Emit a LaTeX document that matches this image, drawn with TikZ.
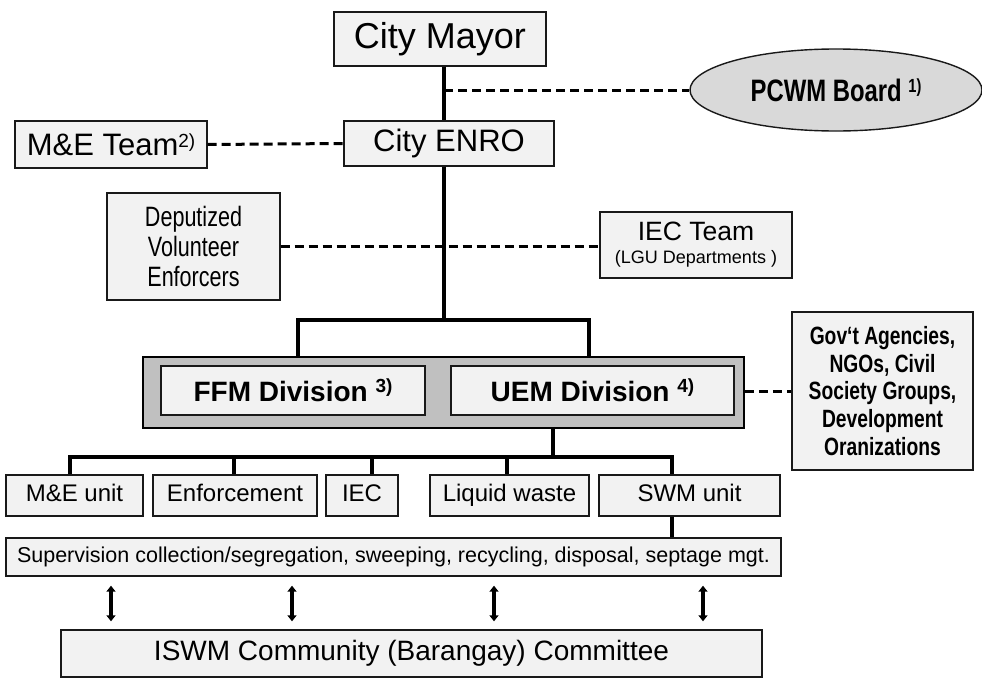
\documentclass[tikz,border=0pt]{standalone}
\usepackage{fontspec}
\setmainfont{Liberation Sans}
\newfontfamily\narrowfont[FakeStretch=0.77]{Liberation Sans}
\usetikzlibrary{shapes.geometric,arrows.meta}
\definecolor{boxgray}{HTML}{F2F2F2}
\definecolor{ellgray}{HTML}{D9D9D9}
\definecolor{biggray}{HTML}{C0C0C0}
\newcommand\fsz[2]{\fontsize{#1}{#2}\selectfont}
\newcommand\sups[3]{\raisebox{#1pt}{\fontsize{#2}{#2}\selectfont #3}}
\begin{document}
\begin{tikzpicture}[x=1pt,y=-1pt,
  box/.style={draw=black!90, line width=1.4pt, fill=boxgray, inner sep=0pt, align=center, text=black},
  unit/.style={box, minimum height=41pt, text height=17pt, text depth=5pt, font=\fsz{24}{26}},
  conn/.style={line width=3.2pt},
  dsh/.style={line width=3pt, dash pattern=on 9pt off 5pt},
  dbl/.style={line width=3.8pt, {Triangle[length=6pt,width=9pt]}-{Triangle[length=6pt,width=9pt]}}]
\useasboundingbox (0,0) rectangle (982,677);
\fill[white] (0,0) rectangle (982,677);

% spine coordinates
\coordinate (sp) at (444,0);
\coordinate (fork) at (444,320);
\coordinate (fl) at (298,320);
\coordinate (fr) at (589,320);
\coordinate (ub) at (553,457);
\coordinate (d1) at (70,457);
\coordinate (d2) at (234,457);
\coordinate (d3) at (372,457);
\coordinate (d4) at (507,457);
\coordinate (d5) at (672,457);
\coordinate (a1) at (111,0);
\coordinate (a2) at (292,0);
\coordinate (a3) at (494,0);
\coordinate (a4) at (703,0);

% top
\node[box, minimum width=212pt, minimum height=54pt, font=\fsz{36}{40}] (mayor) at (440,39) {City Mayor};
\node[ellipse, draw=black!90, line width=1.4pt, fill=ellgray, inner sep=0pt, minimum width=292pt, minimum height=82pt, font=\narrowfont\bfseries\fsz{31}{34}] (pcwm) at (836,90) {PCWM Board \sups{9}{19}{1)}};
\node[box, minimum width=210pt, minimum height=45pt, font=\fsz{31}{34}] (enro) at (449,143.5) {City ENRO};
\node[box, minimum width=192pt, minimum height=47pt, font=\fsz{31}{34}] (mete) at (111,144.5) {M\&E Team\sups{8}{19}{2)}};
\node[box, minimum width=173pt, minimum height=107pt, font=\narrowfont\fsz{28}{30}] (dep) at (193.5,246.5) {Deputized\\Volunteer\\Enforcers};
\node[box, minimum width=192pt, minimum height=66pt, font=\fsz{18}{23}] (iect) at (696,245) {{\fsz{26.5}{26}IEC Team}\\(LGU Departments )};

\draw[conn] (mayor.south -| sp) -- (enro.north -| sp);
\draw[dsh] (sp |- pcwm.west) -- (pcwm.west);
\draw[dsh] (mete.east) -- (enro.west);
\draw[dsh] (dep.east) -- (dep.east -| iect.west);
\draw[conn] (enro.south -| sp) -- (fork);

% divisions
\node[draw=black, line width=1.6pt, fill=biggray, inner sep=0pt, minimum width=601pt, minimum height=71pt] (big) at (443.5,392.5) {};
\node[box, minimum width=264pt, minimum height=49pt, font=\bfseries\fsz{28}{30}] (ffm) at (293,390.5) {FFM Division \sups{9}{19}{3)}};
\node[box, minimum width=283pt, minimum height=49pt, font=\bfseries\fsz{28}{30}] (uem) at (592.5,390.5) {UEM Division \sups{9}{19}{4)}};
\node[box, minimum width=181pt, minimum height=158pt, font=\narrowfont\bfseries\fsz{25}{27.7}] (gov) at (882.5,391) {Gov‘t Agencies,\\NGOs, Civil\\Society Groups,\\Development\\Oranizations};

\draw[conn, line cap=rect] (big.north -| fl) -- (fl) -- (fr) -- (big.north -| fr);
\draw[dsh] (big.east |- gov.west) -- (gov.west);

% units
\node[unit, minimum width=137pt] (meu) at (74.5,495.5) {M\&E unit};
\node[unit, minimum width=164pt] (enf) at (235,495.5) {Enforcement};
\node[unit, minimum width=72pt] (iecu) at (362,495.5) {IEC};
\node[unit, minimum width=159pt] (liq) at (509.5,495.5) {Liquid waste};
\node[unit, minimum width=181pt] (swm) at (689.5,495.5) {SWM unit};

\draw[conn] (big.south -| ub) -- (ub);
\draw[conn, line cap=rect] (d1) -- (d5);
\draw[conn] (d1) -- (meu.north -| d1);
\draw[conn] (d2) -- (enf.north -| d2);
\draw[conn] (d3) -- (iecu.north -| d3);
\draw[conn] (d4) -- (liq.north -| d4);
\draw[conn] (d5) -- (swm.north -| d5);

\node[box, minimum width=775pt, minimum height=38pt, font=\fsz{21.5}{24}] (sup) at (393.5,557) {Supervision collection/segregation, sweeping, recycling, disposal, septage mgt.};
\draw[conn] (swm.south -| d5) -- (sup.north -| d5);

\node[box, minimum width=701pt, minimum height=47pt, font=\fsz{28}{30}] (iswm) at (411.5,653.5) {ISWM Community (Barangay) Committee};

\foreach \a in {a1,a2,a3,a4}
  \draw[dbl, shorten <=9pt, shorten >=8pt] (sup.south -| \a) -- (iswm.north -| \a);
\end{tikzpicture}
\end{document}
